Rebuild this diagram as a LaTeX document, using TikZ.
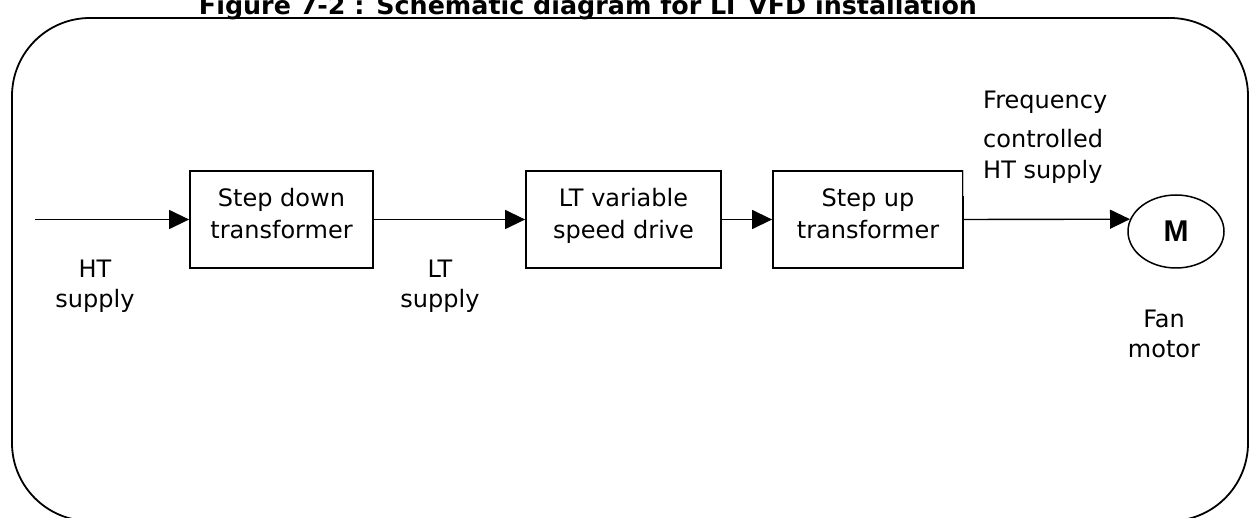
\documentclass[tikz,border=0pt]{standalone}
\usepackage{fontspec}
\usepackage{graphicx}
\setmainfont{DejaVu Sans}
\newfontfamily\motorfont{Liberation Sans}
\usetikzlibrary{arrows.meta,shapes.geometric}

\tikzset{
  frame/.style={draw, line width=1.8pt, rounded corners=78pt},
  block/.style={draw, line width=1.8pt, minimum height=97pt, inner sep=0pt,
    align=center, text depth=12pt, font=\fontsize{24}{31.5}\selectfont},
  conn/.style={line width=1.4pt, -{Triangle[length=20pt,width=19pt]}},
  lbl/.style={align=center, inner sep=0pt, font=\fontsize{24}{29.5}\selectfont},
  sidelbl/.style={anchor=base west, inner sep=0pt, font=\fontsize{24}{29}\selectfont},
  motor/.style={draw, ellipse, line width=1.5pt, minimum width=96pt,
    minimum height=73pt, inner sep=0pt},
}

\begin{document}
\begin{tikzpicture}[x=1pt,y=-1pt]
\useasboundingbox (0,0) rectangle (1251,518);
\clip (0,0) rectangle (1251,518);

% heading, cut by the top edge of the page
\node[anchor=base, inner sep=0pt] (title) at (588,15)
  {\resizebox{778pt}{\height}{\fontsize{25}{28}\selectfont\bfseries
   Figure 7-2 : Schematic diagram for LT VFD installation}};

% rounded outline around the whole scheme
\draw[frame] (12,18) rectangle (1248,521);

% blocks of the drive chain
\node[block, minimum width=183pt] (b1) at (281.5,219.5) {Step down\\transformer};
\node[block, minimum width=195pt] (b2) at (623.5,219.5) {LT variable\\speed drive};
\node[block, minimum width=190pt] (b3) at (868,219.5) {Step up\\transformer};
\node[motor] (m) at (1176,231.5) {\motorfont\fontsize{30}{32}\selectfont\bfseries M};

% faint top part of the step-up box's right side
\draw[white, line width=2.6pt] (b3.north east) -- ++(0,26);
\draw[black!25, line width=0.7pt] ([xshift=-1pt]b3.north east) -- ++(0,26);

% connectors
\coordinate (src) at (35,219.5);
\draw[conn] (src) -- (b1.west);
\draw[conn] (b1.east) -- (b2.west);
\draw[conn] (b2.east) -- (b3.west);
\draw[conn] (b3.east) -- (m.165);

% supply labels
\node[lbl] (ht) at (95,286.5) {HT\\supply};
\node[lbl] (lt) at (440,286.5) {LT\\supply};
\node[lbl] (fan) at (1164,334) {Fan\\motor};
\node[sidelbl] (f1) at (983,109) {Frequency};
\node[sidelbl] (f2) at (983,148) {controlled};
\node[sidelbl] (f3) at (983,179) {HT supply};
\end{tikzpicture}
\end{document}
